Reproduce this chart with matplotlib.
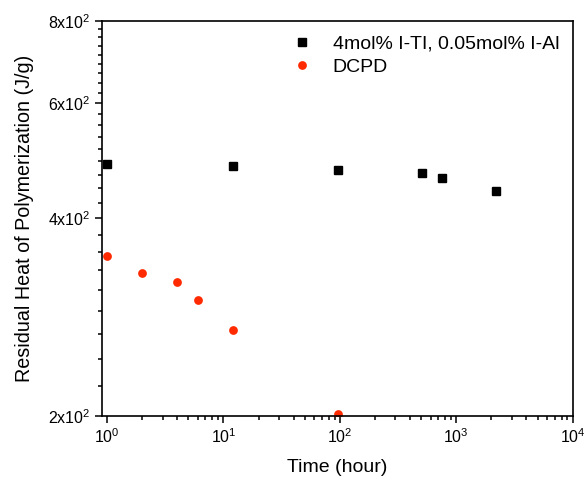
import matplotlib
matplotlib.use("Agg")
import matplotlib.pyplot as plt
from matplotlib.ticker import FixedLocator, NullFormatter, LogLocator
import numpy as np

plt.rcParams.update({
    "font.family": ["Liberation Sans", "DejaVu Sans"],
    "mathtext.default": "regular",
})

# ── Data ─────────────────────────────────────────────────────────────────────
time_ti = [1, 12, 96, 504, 750, 2200]
heat_ti = [484, 481, 474, 469, 461, 440]

time_dcpd = [1, 2, 4, 6, 12, 96]
heat_dcpd = [350, 330, 320, 300, 270, 201.5]

label_ti = "4mol% I-TI, 0.05mol% I-Al"
label_dcpd = "DCPD"

y_major = [200, 400, 600, 800]
y_labels = [r"$2x10^{2}$", r"$4x10^{2}$", r"$6x10^{2}$", r"$8x10^{2}$"]
x_major = [1, 10, 100, 1000, 10000]
x_labels = [r"$10^{0}$", r"$10^{1}$", r"$10^{2}$", r"$10^{3}$", r"$10^{4}$"]

fig = plt.figure(figsize=(5.87, 4.80), dpi=100)
ax = fig.add_axes([0.1738, 0.134, 0.802, 0.822])

ax.plot(time_ti, heat_ti, "s", color="black", markersize=5.3, label=label_ti)
ax.plot(time_dcpd, heat_dcpd, "o", color="#ff2a00", markersize=6.3,
        markeredgewidth=0, label=label_dcpd)

ax.set_xscale("log")
ax.set_yscale("log")
ax.set_xlim(0.906, 1e4)
ax.set_ylim(200, 800)

ax.xaxis.set_major_locator(FixedLocator(x_major))
ax.set_xticklabels(x_labels)
ax.xaxis.set_minor_locator(LogLocator(base=10, subs=np.arange(2, 10)))
ax.xaxis.set_minor_formatter(NullFormatter())

ax.yaxis.set_major_locator(FixedLocator(y_major))
ax.set_yticklabels(y_labels)
y_minor = [v for lo in (200, 400, 600) for v in np.linspace(lo, lo + 200, 10)[1:-1]]
ax.yaxis.set_minor_locator(FixedLocator(y_minor))
ax.yaxis.set_minor_formatter(NullFormatter())

for s in ax.spines.values():
    s.set_linewidth(1.2)
ax.tick_params(which="both", direction="out", top=False, right=False,
               width=1.1, labelsize=11.5)
ax.tick_params(which="major", length=5)
ax.tick_params(which="minor", length=3)

ax.set_xlabel("Time (hour)", fontsize=14, labelpad=9)
ax.set_ylabel("Residual Heat of Polymerization (J/g)", fontsize=14.2, labelpad=10)

ax.legend(loc="upper right", frameon=False, fontsize=14, handletextpad=1.1,
          labelspacing=0.3, borderaxespad=0.3, handlelength=1.0)

fig.savefig("out.png", dpi=100)
